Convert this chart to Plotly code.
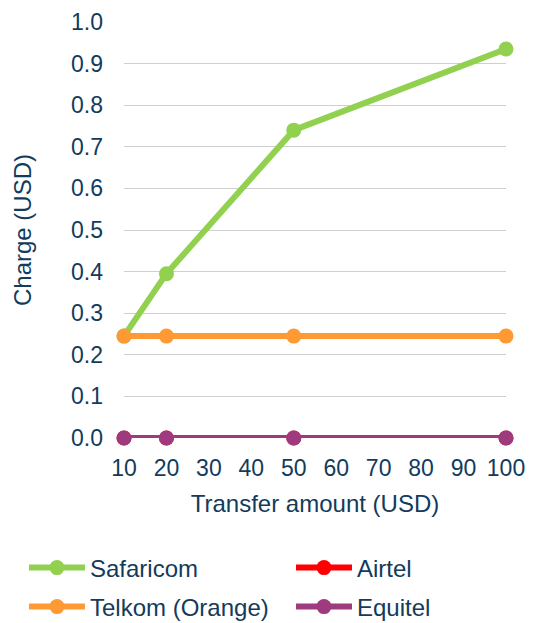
import plotly.graph_objects as go

amounts = [10, 20, 50, 100]
safaricom = [0.245, 0.395, 0.74, 0.935]
telkom = [0.245, 0.245, 0.245, 0.245]
airtel = [0.0, 0.0, 0.0, 0.0]
equitel = [0.0, 0.0, 0.0, 0.0]

FONT = "Liberation Sans, Arial, sans-serif"
TXT = "#123b5c"

fig = go.Figure()

def add(name, y, color, legend):
    fig.add_trace(go.Scatter(
        x=amounts, y=y, name=name, mode="lines+markers",
        line=dict(color=color, width=6),
        marker=dict(color=color, size=15, symbol="circle"),
        cliponaxis=False, legend=legend,
    ))

add("Safaricom", safaricom, "#92D050", "legend")
add("Telkom (Orange)", telkom, "#FF9933", "legend3")
add("Airtel", airtel, "#FF0000", "legend2")
add("Equitel", equitel, "#9E3A7E", "legend4")

leg_common = dict(
    orientation="h", xref="container", yref="container",
    xanchor="left", yanchor="middle", itemwidth=56,
    font=dict(size=24, color=TXT), bgcolor="rgba(0,0,0,0)",
)
col1, col2 = 24 / 536, 291 / 536
row1, row2 = 1 - 568 / 623, 1 - 607 / 623

fig.update_layout(
    width=536, height=623,
    margin=dict(l=124, r=30, t=22, b=185, autoexpand=False),
    paper_bgcolor="white", plot_bgcolor="white",
    font=dict(family=FONT, color=TXT, size=23),
    showlegend=True,
    legend=dict(leg_common, x=col1, y=row1),
    legend2=dict(leg_common, x=col2, y=row1),
    legend3=dict(leg_common, x=col1, y=row2),
    legend4=dict(leg_common, x=col2, y=row2),
)
fig.update_xaxes(
    range=[10, 100], tickmode="array", tickvals=list(range(10, 101, 10)),
    showgrid=False, zeroline=False, showline=False,
    ticklabelstandoff=14, tickfont=dict(size=23),
    title=dict(text="Transfer amount (USD)", font=dict(size=24), standoff=15),
)
fig.update_yaxes(
    range=[0, 1.0], tickmode="array", tickvals=[i / 10 for i in range(11)],
    tickformat=".1f", showgrid=True, gridcolor="#cfcfcf", gridwidth=1.3,
    zeroline=False, showline=False,
    ticklabelstandoff=20, tickfont=dict(size=23),
    title=dict(text="Charge (USD)", font=dict(size=24), standoff=32),
)

fig.write_html("out.html")
